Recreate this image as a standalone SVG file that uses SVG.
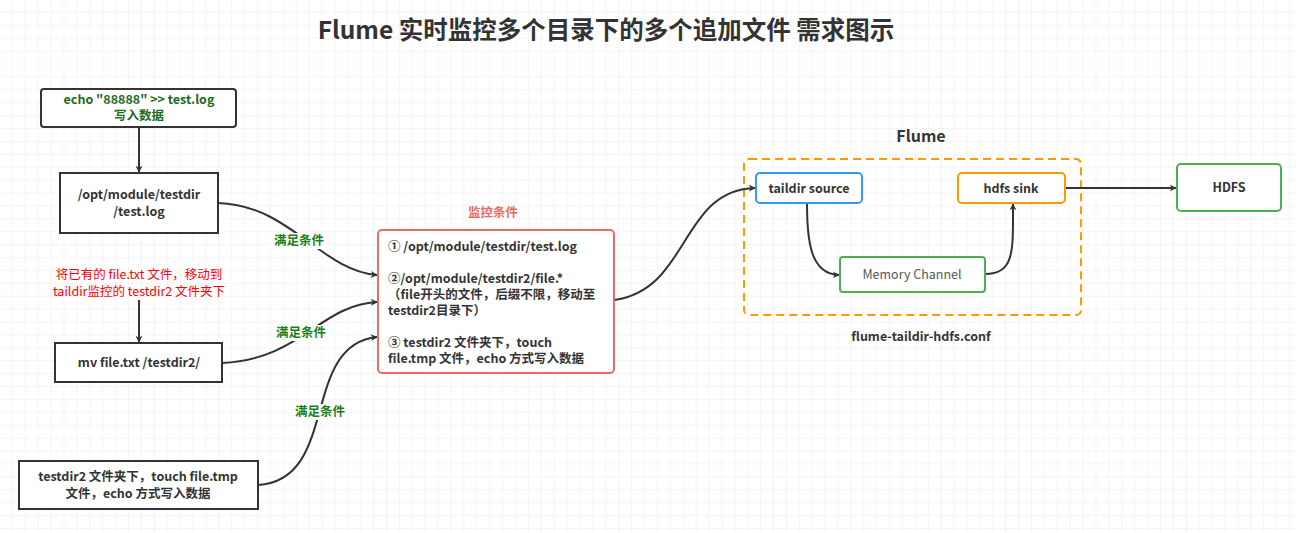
<svg xmlns="http://www.w3.org/2000/svg" width="1296" height="533" viewBox="0 0 1296 533">
<defs>
<pattern id="g" width="12.9" height="12.9" patternUnits="userSpaceOnUse"><path d="M12.9 0V12.9H0" fill="none" stroke="#ebebeb" stroke-width="1"/></pattern>
<marker id="a" viewBox="0 0 10 10" refX="9" refY="5" markerWidth="7" markerHeight="7" orient="auto" markerUnits="userSpaceOnUse"><path d="M0 0L10 5L0 10L3 5Z" fill="#333"/></marker>
<style>
text{font-family:"Noto Sans CJK SC","Noto Sans",sans-serif;font-size:12.5px;fill:#333;text-anchor:middle}
.b{font-weight:bold}
.n{fill:#fff;stroke:#333;stroke-width:2}
.c path{fill:none;stroke:#333;stroke-width:2;marker-end:url(#a)}
.lbl{fill:#1a7f1a;font-weight:bold}
</style>
</defs>
<rect width="1296" height="533" fill="#fff"/>
<rect width="1296" height="533" fill="url(#g)"/>
<text x="606" y="39" class="b" style="font-size:24.5px">Flume 实时监控多个目录下的多个追加文件 需求图示</text>
<g id="flume">
<rect x="744" y="159" width="337" height="156" rx="5" fill="none" stroke="#FF9900" stroke-width="2" stroke-dasharray="8 5"/>
<text x="921" y="142" class="b" style="font-size:16px">Flume</text>
<text x="921" y="341" class="b">flume-taildir-hdfs.conf</text>
</g>
<g class="c">
<path d="M139 127V172"/>
<path d="M139 300V342"/>
<path d="M218 203C290 205 320 270 377 275"/>
<path d="M222 363C300 360 320 305 377 302"/>
<path d="M258 485C340 480 300 345 377 337"/>
<path d="M614 300C690 290 680 190 755 188"/>
<path d="M807 203C807 240 810 274 839 275"/>
<path d="M985 274C1015 274 1013 250 1013 204"/>
<path d="M1065 188H1176"/>
</g>
<g>
<rect x="269" y="233" width="60" height="16" fill="#fff"/><text x="299" y="245" class="lbl">满足条件</text>
<rect x="271" y="325" width="60" height="16" fill="#fff"/><text x="301" y="337" class="lbl">满足条件</text>
<rect x="290" y="404" width="60" height="16" fill="#fff"/><text x="320" y="416" class="lbl">满足条件</text>
</g>
<g id="n1"><rect class="n" x="41" y="89" width="195" height="38" rx="3"/><text x="139" y="104" class="b" style="fill:#1a6b1a">echo "88888" &gt;&gt; test.log</text><text x="139" y="120" class="b" style="fill:#1a6b1a">写入数据</text></g>
<g id="n2"><rect class="n" x="60" y="173" width="158" height="60"/><text x="139" y="199" class="b">/opt/module/testdir</text><text x="139" y="216" class="b">/test.log</text></g>
<g id="note"><text x="139" y="279" style="fill:#ff0000">将已有的 file.txt 文件，移动到</text><text x="139" y="296" style="fill:#ff0000">taildir监控的 testdir2 文件夹下</text></g>
<g id="n3"><rect class="n" x="55" y="343" width="167" height="39"/><text x="139" y="367" class="b">mv file.txt /testdir2/</text></g>
<g id="n4"><rect class="n" x="19" y="461" width="239" height="48"/><text x="138" y="481" class="b">testdir2 文件夹下，touch file.tmp</text><text x="138" y="498" class="b">文件，echo 方式写入数据</text></g>
<g id="cond">
<text x="493" y="217" class="b" style="fill:#EA6B66">监控条件</text>
<rect x="378" y="230" width="236" height="143" rx="4" fill="#fff" stroke="#EA6B66" stroke-width="2"/>
<g class="b">
<text x="388" y="251" style="text-anchor:start">① /opt/module/testdir/test.log</text>
<text x="388" y="283" style="text-anchor:start">②/opt/module/testdir2/file.*</text>
<text x="388" y="299" style="text-anchor:start"> （file开头的文件，后缀不限，移动至</text>
<text x="388" y="315" style="text-anchor:start">testdir2目录下）</text>
<text x="388" y="347" style="text-anchor:start">③ testdir2 文件夹下，touch</text>
<text x="388" y="363" style="text-anchor:start">file.tmp 文件，echo 方式写入数据</text>
</g>
</g>
<g id="src"><rect x="756" y="173" width="106" height="30" rx="4" fill="#fff" stroke="#3399FF" stroke-width="2"/><text x="809" y="193" class="b">taildir source</text></g>
<g id="sink"><rect x="958" y="173" width="107" height="30" rx="4" fill="#fff" stroke="#FF9900" stroke-width="2"/><text x="1011" y="193" class="b">hdfs sink</text></g>
<g id="mem"><rect x="840" y="257" width="145" height="35" rx="3" fill="#fff" stroke="#4CAF50" stroke-width="2"/><text x="912" y="279" style="fill:#555">Memory Channel</text></g>
<g id="hdfs"><rect x="1177" y="164" width="104" height="47" rx="4" fill="#fff" stroke="#4CAF50" stroke-width="2"/><text x="1229" y="192" class="b">HDFS</text></g>
</svg>
